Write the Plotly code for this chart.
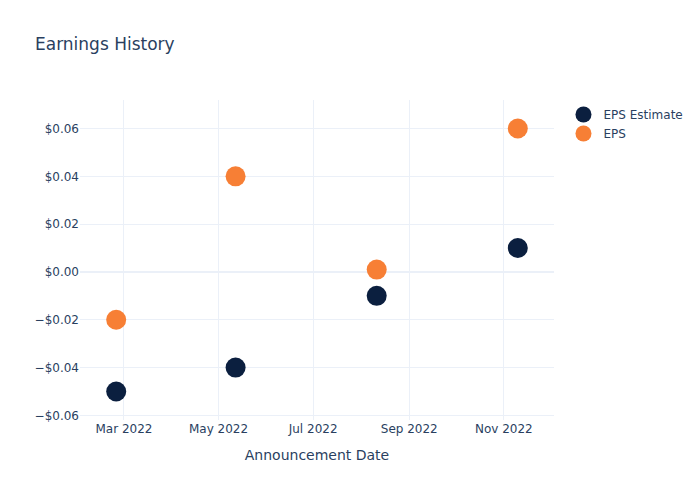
import plotly.graph_objects as go

dates = ["2022-02-24", "2022-05-12", "2022-08-11", "2022-11-10"]
eps_estimate = [-0.05, -0.04, -0.01, 0.01]
eps_actual = [-0.02, 0.04, 0.001, 0.06]

fig = go.Figure()
fig.add_trace(go.Scatter(x=dates, y=eps_estimate, mode="markers", name="EPS Estimate",
                         marker=dict(size=20, color="#0b1f3f")))
fig.add_trace(go.Scatter(x=dates, y=eps_actual, mode="markers", name="EPS",
                         marker=dict(size=20, color="#f77f35")))
fig.update_layout(
    template="plotly_white",
    width=700, height=500,
    font=dict(family="DejaVu Sans"),
    title=dict(text="Earnings History"),
    xaxis=dict(title=dict(text="Announcement Date"), dtick="M2", tickformat="%b %Y"),
    yaxis=dict(tickformat="$.2f"),
)
fig.write_html("out.html")
